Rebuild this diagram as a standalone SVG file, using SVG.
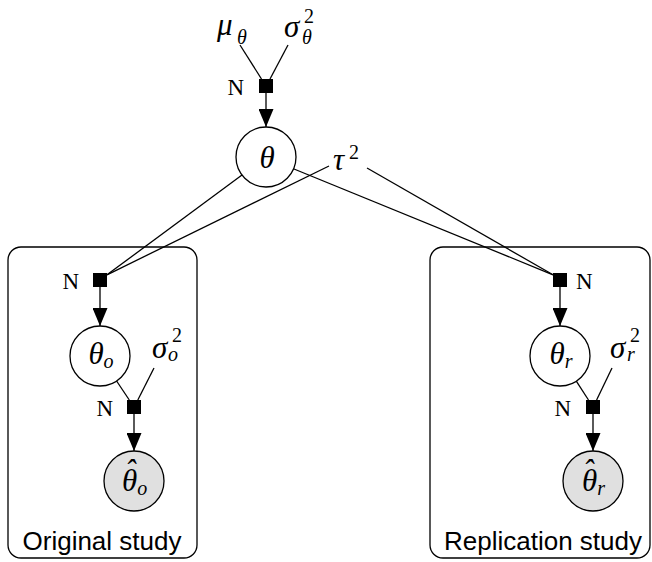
<svg xmlns="http://www.w3.org/2000/svg" width="652" height="562" viewBox="0 0 652 562">
<defs>
<marker id="arr" markerUnits="userSpaceOnUse" markerWidth="18" markerHeight="15" refX="18" refY="7.5" orient="auto">
<path d="M0,0 L18,7.5 L0,15 z" fill="#000"/>
</marker>
<style>
.ln{stroke:#000;stroke-width:1.3;fill:none}
.ar{stroke:#000;stroke-width:1.3;fill:none;marker-end:url(#arr)}
.fac{fill:#000}
.lat{fill:#fff;stroke:#000;stroke-width:1.3}
.obs{fill:#e0e0e0;stroke:#000;stroke-width:1.3}
.plate{fill:none;stroke:#000;stroke-width:1.3}
.m{font-family:"Liberation Serif","DejaVu Serif",serif;font-style:italic;font-size:31px;fill:#000}
.s{font-family:"Liberation Serif","DejaVu Serif",serif;font-style:italic;font-size:20px;fill:#000}
.d{font-family:"Liberation Serif","DejaVu Serif",serif;font-style:normal;font-size:20px;fill:#000}
.n{font-family:"Liberation Serif","DejaVu Serif",serif;font-size:23px;fill:#000}
.lab{font-family:"Liberation Sans","DejaVu Sans",sans-serif;font-size:26px;fill:#000;text-anchor:middle}
</style>
</defs>
<rect width="652" height="562" fill="#fff"/>

<g id="plate-original">
<rect class="plate" x="8" y="247" width="189" height="311" rx="13"/>
<text class="lab" x="102" y="550">Original study</text>
</g>
<g id="plate-replication">
<rect class="plate" x="430" y="247" width="220" height="311" rx="13"/>
<text class="lab" x="543" y="550">Replication study</text>
</g>

<g id="connectors">
<line class="ln" x1="240" y1="45" x2="261.5" y2="79"/>
<line class="ln" x1="288" y1="45" x2="270" y2="79"/>
<line class="ar" x1="266" y1="93" x2="266" y2="127"/>
<line class="ln" x1="242" y1="175" x2="107" y2="274.8"/>
<line class="ln" x1="329" y1="166" x2="107" y2="274.8"/>
<line class="ln" x1="294" y1="169" x2="553" y2="274.8"/>
<line class="ln" x1="367" y1="168" x2="553" y2="274.8"/>
<line class="ar" x1="100" y1="287" x2="100" y2="326"/>
<line class="ln" x1="116.6" y1="381" x2="129.3" y2="400"/>
<line class="ln" x1="154" y1="368" x2="137.8" y2="400"/>
<line class="ar" x1="134" y1="414" x2="134" y2="451"/>
<line class="ar" x1="560" y1="287" x2="560" y2="326"/>
<line class="ln" x1="576.3" y1="381.2" x2="588.5" y2="400"/>
<line class="ln" x1="612" y1="368" x2="596.6" y2="400"/>
<line class="ar" x1="593" y1="414" x2="593" y2="451"/>
</g>

<g id="mu-theta">
<text class="m" x="217" y="35">μ<tspan class="s" x="237" y="44">θ</tspan></text>
</g>
<g id="sigma-theta">
<text class="m" x="284" y="37">σ<tspan class="d" x="304" y="23">2</tspan><tspan class="s" x="302" y="44">θ</tspan></text>
</g>
<g id="factor-top">
<rect class="fac" x="259" y="79" width="14" height="14"/>
<text class="n" x="244" y="95" text-anchor="end">N</text>
</g>
<g id="theta">
<circle class="lat" cx="266" cy="157" r="30"/>
<text class="m" x="267" y="168" text-anchor="middle">θ</text>
</g>
<g id="tau">
<text class="m" x="333" y="170">τ<tspan class="d" x="349" y="159">2</tspan></text>
</g>

<g id="factor-o">
<rect class="fac" x="93" y="273" width="14" height="14"/>
<text class="n" x="79" y="289" text-anchor="end">N</text>
</g>
<g id="theta-o">
<circle class="lat" cx="100" cy="356" r="30"/>
<text class="m" x="101" y="364" text-anchor="middle">θ<tspan class="s" dy="4">o</tspan></text>
</g>
<g id="sigma-o">
<text class="m" x="152" y="358">σ<tspan class="d" x="172" y="342">2</tspan><tspan class="s" x="168" y="361">o</tspan></text>
</g>
<g id="factor-o2">
<rect class="fac" x="127" y="400" width="14" height="14"/>
<text class="n" x="113" y="416" text-anchor="end">N</text>
</g>
<g id="thetahat-o">
<circle class="obs" cx="134" cy="481" r="30"/>
<text class="m" x="122" y="491">θ<tspan class="s" y="495">o</tspan><tspan x="125" y="481">ˆ</tspan></text>
</g>

<g id="factor-r">
<rect class="fac" x="553" y="273" width="14" height="14"/>
<text class="n" x="576" y="289">N</text>
</g>
<g id="theta-r">
<circle class="lat" cx="560" cy="356" r="30"/>
<text class="m" x="561" y="364" text-anchor="middle">θ<tspan class="s" dy="4">r</tspan></text>
</g>
<g id="sigma-r">
<text class="m" x="610" y="358">σ<tspan class="d" x="630" y="342">2</tspan><tspan class="s" x="627" y="361">r</tspan></text>
</g>
<g id="factor-r2">
<rect class="fac" x="586" y="400" width="14" height="14"/>
<text class="n" x="571" y="416" text-anchor="end">N</text>
</g>
<g id="thetahat-r">
<circle class="obs" cx="593" cy="481" r="30"/>
<text class="m" x="582" y="491">θ<tspan class="s" y="495">r</tspan><tspan x="583" y="481">ˆ</tspan></text>
</g>
</svg>
